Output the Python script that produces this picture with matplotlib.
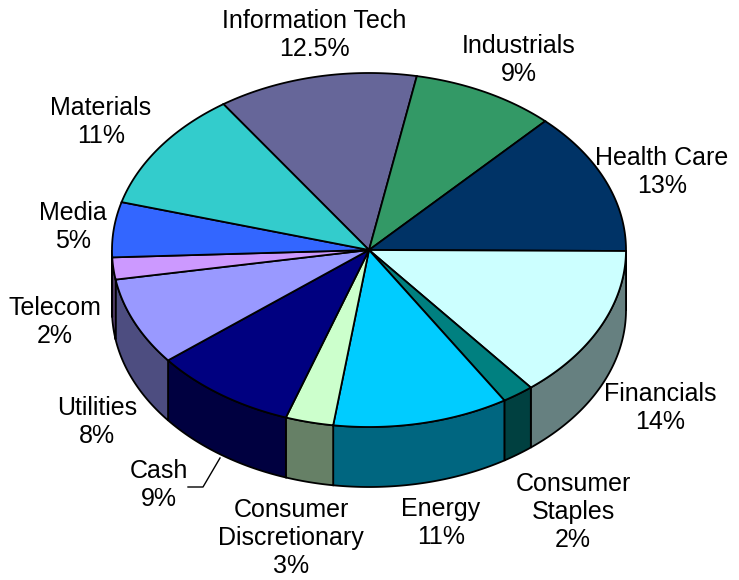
import matplotlib.pyplot as plt
import numpy as np
from matplotlib.patches import Polygon

# sector weights (%), clockwise from Information Tech
sectors = ['Information Tech', 'Industrials', 'Health Care', 'Financials',
           'Consumer Staples', 'Energy', 'Consumer Discretionary', 'Cash',
           'Utilities', 'Telecom', 'Media', 'Materials']
weights = [12.5, 9, 13, 14, 2, 11, 3, 9, 8, 2, 5, 11]
pct_labels = ['12.5%', '9%', '13%', '14%', '2%', '11%', '3%', '9%',
              '8%', '2%', '5%', '11%']
label_text = ['Information Tech', 'Industrials', 'Health Care', 'Financials',
              'Consumer\nStaples', 'Energy', 'Consumer\nDiscretionary', 'Cash',
              'Utilities', 'Telecom', 'Media', 'Materials']
top_colors = ['#666699', '#339966', '#003366', '#CCFFFF', '#008080', '#00CCFF',
              '#CCFFCC', '#000080', '#9999FF', '#CC99FF', '#3366FF', '#33CCCC']

# label anchor positions (pixels)
label_pos = [(314, 35), (519, 60), (662, 172), (660, 408), (573, 512),
             (441, 523), (291, 538), (159, 485), (97, 422), (55, 322),
             (73, 227), (101, 122)]

# pie geometry in pixels
cx, cy = 369, 250
ra, rb = 257, 177
depth = 60
start = 124.5

W, H = 739, 580
fig = plt.figure(figsize=(W / 100, H / 100), dpi=100)
ax = fig.add_axes([0, 0, 1, 1])
ax.set_xlim(0, W)
ax.set_ylim(H, 0)
ax.axis('off')


def darker(c):
    r, g, b = [int(c[i:i + 2], 16) / 255 for i in (1, 3, 5)]
    return (r * 0.5, g * 0.5, b * 0.5)


def arc(t0, t1, dy=0, n=80):
    t = np.radians(np.linspace(t0, t1, n))
    return np.column_stack([cx + ra * np.cos(t), cy - rb * np.sin(t) + dy])


total = sum(weights)
angles = [start]
for w in weights:
    angles.append(angles[-1] - w / total * 360)

lw = 1.3
# side walls (front half only: angles between -180 and 0)
for i in range(len(weights)):
    t0, t1 = angles[i], angles[i + 1]
    for shift in (0, -360, 360):
        a0 = min(t0 + shift, 0)
        a1 = max(t1 + shift, -180)
        if a0 > a1:
            top = arc(a0, a1)
            bot = arc(a1, a0, dy=depth)
            ax.add_patch(Polygon(np.vstack([top, bot]), closed=True,
                                 facecolor=darker(top_colors[i]),
                                 edgecolor='black', lw=lw, zorder=2))

# top faces
for i in range(len(weights)):
    pts = np.vstack([[cx, cy], arc(angles[i], angles[i + 1])])
    ax.add_patch(Polygon(pts, closed=True, facecolor=top_colors[i],
                         edgecolor='black', lw=lw, zorder=3))

# labels
for i in range(len(weights)):
    x, y = label_pos[i]
    ax.text(x, y, label_text[i] + '\n' + pct_labels[i], ha='center',
            va='center', fontsize=18, family='Liberation Sans',
            linespacing=1.2, zorder=5)

# leader line for Cash
ax.plot([220, 203, 188], [458, 487, 487], color='black', lw=1, zorder=4)

fig.savefig('out.png', dpi=100)
